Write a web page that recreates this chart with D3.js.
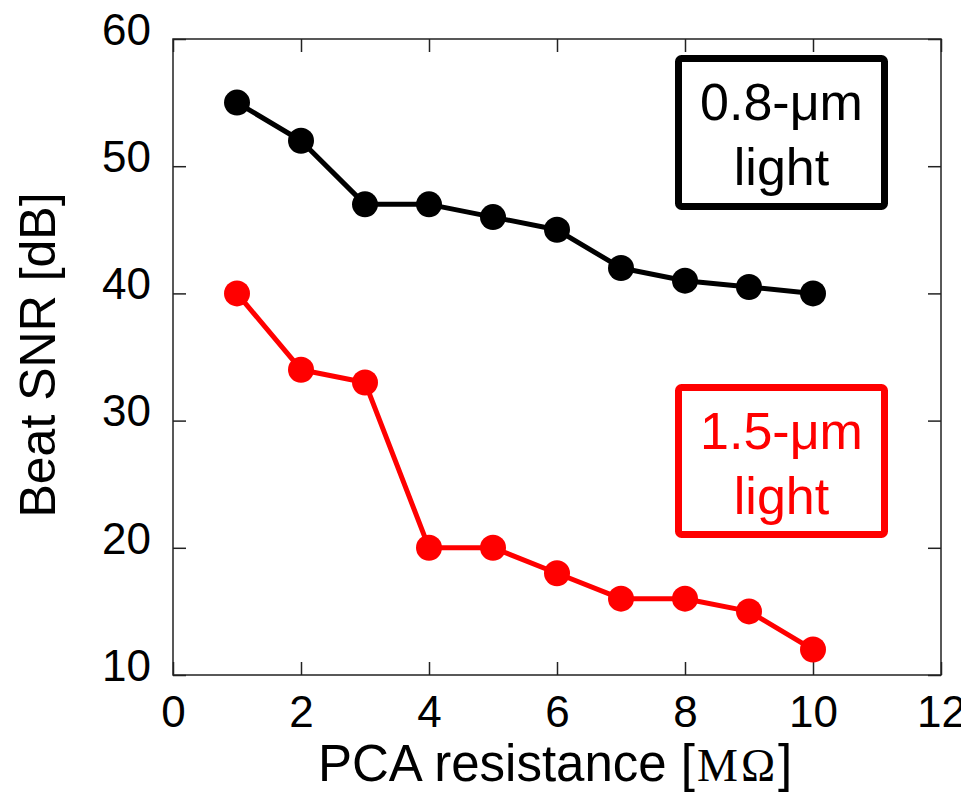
<!DOCTYPE html>
<html>
<head>
<meta charset="utf-8">
<script src="https://cdn.jsdelivr.net/npm/d3@7"></script>
<style>
  html, body { margin: 0; padding: 0; background: #fff; }
  svg { display: block; font-family: "Liberation Sans", Arial, sans-serif; }
</style>
</head>
<body>
<svg id="chart" width="961" height="794"></svg>
<script>
// PCA resistance (MΩ) and beat SNR (dB) for two wavelengths
const resistance = [1, 2, 3, 4, 5, 6, 7, 8, 9, 10];
const snr08 = [55, 52, 47, 47, 46, 45, 42, 41, 40.5, 40];
const snr15 = [40, 34, 33, 20, 20, 18, 16, 16, 15, 12];
const xTicks = [0, 2, 4, 6, 8, 10, 12];
const yTicks = [10, 20, 30, 40, 50, 60];
const seriesLabels = [["0.8-μm", "light"], ["1.5-μm", "light"]];
const seriesColors = ["#000000", "#ff0000"];

const svg = d3.select("#chart");
const margin = { left: 173, top: 39, right: 20, bottom: 119 };
const W = 961 - margin.left - margin.right;
const H = 794 - margin.top - margin.bottom;

const x = d3.scaleLinear().domain([0, 12]).range([0, W]);
const y = d3.scaleLinear().domain([10, 60]).range([H, 0]);

const g = svg.append("g").attr("transform", `translate(${margin.left},${margin.top})`);

// inward ticks on all four sides
const tickLen = 13;
const axStyle = sel => {
  sel.select(".domain").remove();
  sel.selectAll(".tick line").attr("stroke", "#222").attr("stroke-width", 1.5);
};
g.append("g").attr("transform", `translate(0,${H})`)
  .call(d3.axisBottom(x).tickValues(xTicks).tickSize(-tickLen).tickPadding(20))
  .call(axStyle)
  .call(s => s.selectAll("text").attr("font-size", 44).attr("fill", "#000")
    .attr("font-family", "Liberation Sans, Arial, sans-serif").attr("dy", "0.72em"));
g.append("g")
  .call(d3.axisTop(x).tickValues(xTicks).tickSize(-tickLen).tickFormat(""))
  .call(axStyle);
g.append("g")
  .call(d3.axisLeft(y).tickValues(yTicks).tickSize(-tickLen).tickPadding(22))
  .call(axStyle)
  .call(s => s.selectAll("text").attr("font-size", 44).attr("fill", "#000")
    .attr("font-family", "Liberation Sans, Arial, sans-serif").attr("dy", "0.12em"));
g.append("g").attr("transform", `translate(${W},0)`)
  .call(d3.axisRight(y).tickValues(yTicks).tickSize(-tickLen).tickFormat(""))
  .call(axStyle);

// frame
g.append("rect").attr("x", 0).attr("y", 0).attr("width", W).attr("height", H)
  .attr("fill", "none").attr("stroke", "#222").attr("stroke-width", 1.5);

// series
const line = d3.line().x((d, i) => x(resistance[i])).y(d => y(d));
[snr08, snr15].forEach((vals, k) => {
  const sg = g.append("g");
  sg.append("path").datum(vals).attr("d", line)
    .attr("fill", "none").attr("stroke", seriesColors[k]).attr("stroke-width", 5)
    .attr("stroke-linejoin", "round");
  sg.selectAll("circle").data(vals).join("circle")
    .attr("cx", (d, i) => x(resistance[i])).attr("cy", d => y(d)).attr("r", 13)
    .attr("fill", seriesColors[k]);
});

// labelled boxes
const boxes = [
  { x: 678.5, y: 58.5, w: 206, h: 148, base: 120 },
  { x: 678.5, y: 387.5, w: 206, h: 147, base: 449 }
];
boxes.forEach((b, k) => {
  svg.append("rect").attr("x", b.x).attr("y", b.y).attr("width", b.w).attr("height", b.h)
    .attr("rx", 3).attr("fill", "#fff").attr("stroke", seriesColors[k]).attr("stroke-width", 7);
  seriesLabels[k].forEach((t, j) => {
    svg.append("text").attr("x", b.x + b.w / 2).attr("y", b.base + j * 65)
      .attr("text-anchor", "middle").attr("font-size", 52).attr("fill", seriesColors[k]).text(t);
  });
});

// axis titles
const xt = svg.append("text").attr("x", 318).attr("y", 781).attr("font-size", 51).attr("fill", "#000");
xt.append("tspan").text("PCA resistance [");
xt.append("tspan").attr("font-family", "Liberation Serif, Times New Roman, serif").attr("font-size", 46)
  .attr("dx", 2).text("M");
xt.append("tspan").attr("font-family", "Liberation Serif, Times New Roman, serif").attr("font-size", 46)
  .attr("dx", 3).text("Ω");
xt.append("tspan").attr("dx", 3).text("]");

svg.append("text").attr("transform", "translate(55,355) rotate(-90)")
  .attr("text-anchor", "middle").attr("font-size", 50).attr("fill", "#000").text("Beat SNR [dB]");
</script>
</body>
</html>
